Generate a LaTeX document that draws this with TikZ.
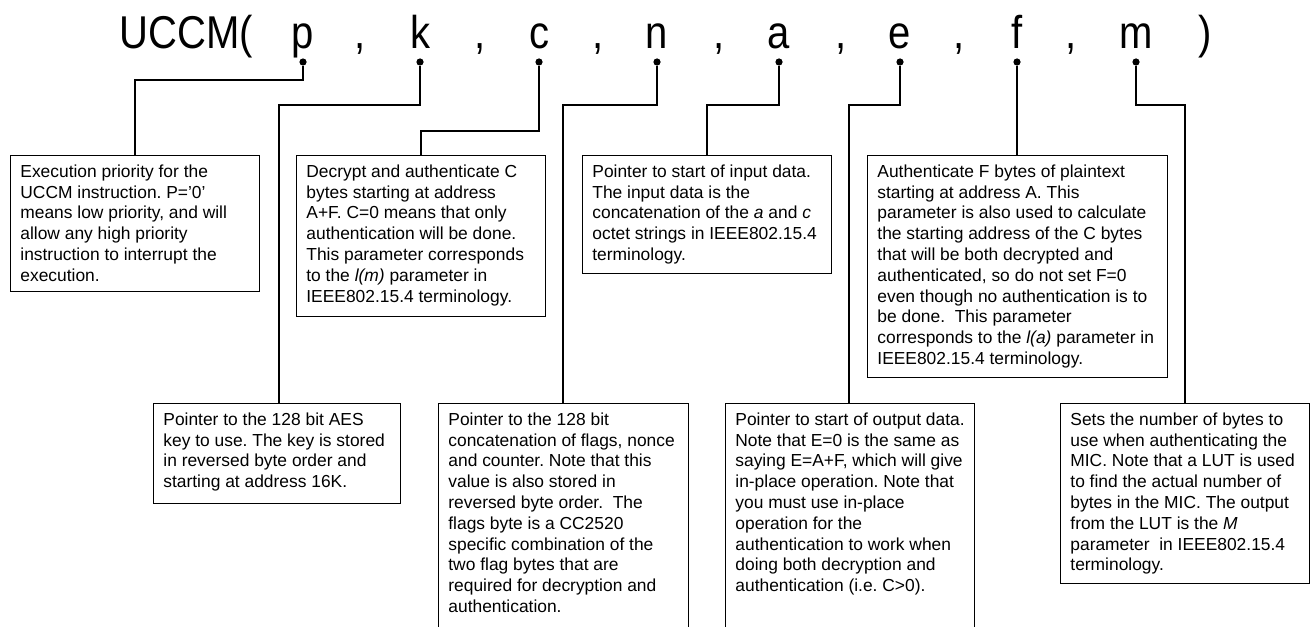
\documentclass[tikz,border=0pt]{standalone}
\usepackage{graphicx}
\usepackage{fontspec}
\setmainfont{Liberation Sans}
\frenchspacing
\newcommand\notefont{\fontsize{8.7}{10.4}\selectfont}
\newcommand\callword[1]{\scalebox{0.87}[1]{\fontsize{23}{26}\selectfont #1}}

\begin{document}
\begin{tikzpicture}[
  x=0.5pt, y=-0.5pt,
  param/.style={anchor=base,inner sep=0pt},
  tap/.style={circle,fill,inner sep=0pt,minimum size=3.6pt},
  note/.style={draw,line width=0.6pt,anchor=north west,inner sep=0pt,minimum width=124.5pt},
  notetext/.style={anchor=north west,align=left,inner xsep=5pt,inner ysep=4.6pt,font=\notefont},
  wire/.style={line width=0.6pt},
]
\path[use as bounding box,fill=white] (0,0) rectangle (1310,626);
% ---- instruction call ----
\node[param,anchor=base west] (head) at (119,49) {\callword{UCCM(}};
\foreach \n/\x in {p/303,k/420,c/539,n/657,a/779,e/900,f/1017,m/1136}{
  \node[param] (\n) at (\x,49) {\callword{\n}};
  \node[tap] (\n dot) at (\x,62) {};
}
\foreach \x [count=\i] in {360,480,598,719,841,959,1071}
  \node[param] (comma\i) at (\x,49) {\callword{,}};
\node[param] (tail) at (1205,49) {\callword{)}};
% ---- upper row of notes ----
\node[note,minimum height=68pt,label={[notetext]north west:{Execution priority for the\\UCCM instruction. P='0'\\means low priority, and will\\allow any high priority\\instruction to interrupt the\\execution.}}] (pbox) at (10,155) {};
\node[note,minimum height=80.5pt,label={[notetext]north west:{Decrypt and authenticate C\\bytes starting at address\\A+F. C=0 means that only\\authentication will be done.\\This parameter corresponds\\to the \textit{l(m)} parameter in\\IEEE802.15.4 terminology.}}] (cbox) at (296,155) {};
\node[note,minimum height=59pt,label={[notetext]north west:{Pointer to start of input data.\\The input data is the\\concatenation of the \textit{a} and \textit{c}\\octet strings in IEEE802.15.4\\terminology.}}] (abox) at (582,155) {};
\node[note,minimum width=150pt,minimum height=111pt,label={[notetext]north west:{Authenticate F bytes of plaintext\\starting at address A. This\\parameter is also used to calculate\\the starting address of the C bytes\\that will be both decrypted and\\authenticated, so do not set F=0\\even though no authentication is to\\be done.\ \ This parameter\\corresponds to the \textit{l(a)} parameter in\\IEEE802.15.4 terminology.}}] (fbox) at (867,155) {};
% ---- lower row of notes ----
\node[note,minimum width=123.5pt,minimum height=50pt,label={[notetext]north west:{Pointer to the 128 bit AES\\key to use. The key is stored\\in reversed byte order and\\starting at address 16K.}}] (kbox) at (153,403) {};
\node[note,minimum width=125pt,minimum height=120pt,label={[notetext]north west:{Pointer to the 128 bit\\concatenation of flags, nonce\\and counter. Note that this\\value is also stored in\\reversed byte order.\ \ The\\flags byte is a CC2520\\specific combination of the\\two flag bytes that are\\required for decryption and\\authentication.}}] (nbox) at (438,403) {};
\node[note,minimum height=120pt,label={[notetext]north west:{Pointer to start of output data.\\Note that E=0 is the same as\\saying E=A+F, which will give\\in-place operation. Note that\\you must use in-place\\operation for the\\authentication to work when\\doing both decryption and\\authentication (i.e. C>0).}}] (ebox) at (725,403) {};
\node[note,minimum height=90pt,label={[notetext]north west:{Sets the number of bytes to\\use when authenticating the\\MIC. Note that a LUT is used\\to find the actual number of\\bytes in the MIC. The output\\from the LUT is the \textit{M}\\parameter\ \ in IEEE802.15.4\\terminology.}}] (mbox) at (1060,403) {};
% ---- leaders from the parameters ----
\coordinate (pbend) at (135,80);
\coordinate (kbend) at (279,105);
\coordinate (cbend) at (421,131);
\coordinate (nbend) at (563,105);
\coordinate (abend) at (707,105);
\coordinate (ebend) at (849,105);
\coordinate (mbend) at (1185,105);
\foreach \n in {p,k,c,n,a,e,m}
  \draw[wire] (\n dot) |- (\n bend) -- (\n bend |- \n box.north);
\draw[wire] (fdot) -- (fdot |- fbox.north);
\end{tikzpicture}
\end{document}
